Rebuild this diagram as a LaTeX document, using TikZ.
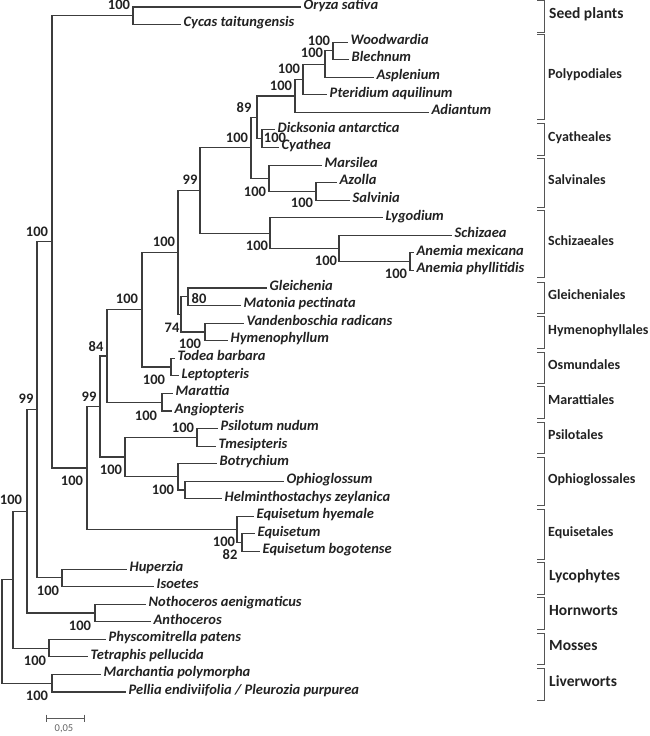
\documentclass[tikz,border=0pt]{standalone}
\usepackage{fontspec}
\setmainfont{Carlito}
\definecolor{linecol}{HTML}{3C3C3C}
\definecolor{txtcol}{HTML}{222222}
\definecolor{brcol}{HTML}{555555}
\begin{document}
\begin{tikzpicture}[x=1pt,y=-1pt,
  br/.style={draw=linecol,line width=1.1pt},
  taxon/.style={anchor=west,font=\fontsize{14.5}{15}\selectfont\bfseries\itshape,text=txtcol,inner xsep=2.5pt,inner ysep=0pt,text height=0.62em,text depth=0.18em},
  bs/.style={font=\fontsize{14.5}{15}\selectfont\bfseries,text=txtcol,inner sep=0pt},
  grp/.style={anchor=west,font=\fontsize{14}{15}\selectfont\bfseries,text=txtcol,inner sep=0pt,text height=0.62em,text depth=0.18em},
  major/.style={anchor=west,font=\fontsize{15.5}{16}\selectfont\bfseries,text=txtcol,inner sep=0pt,text height=0.62em,text depth=0.18em},
  bracket/.style={draw=brcol,line width=1pt},
  scalelab/.style={font=\fontsize{10.5}{11}\selectfont,text=gray!80!black,inner sep=0pt}]
\fill[white] (0,0) rectangle (650,736);
\useasboundingbox (0,0) rectangle (650,736);
% leaves
\node[taxon] (oryza) at (301,7) {Oryza sativa};
\node[taxon] (cycas) at (181,24.6) {Cycas taitungensis};
\node[taxon] (woodw) at (348,42.1) {Woodwardia};
\node[taxon] (blech) at (349,59.7) {Blechnum};
\node[taxon] (asplen) at (374,77.3) {Asplenium};
\node[taxon] (pterid) at (327,94.8) {Pteridium aquilinum};
\node[taxon] (adiant) at (429,112.4) {Adiantum};
\node[taxon] (dicks) at (275,129.9) {Dicksonia antarctica};
\node[taxon] (cyathea) at (279,147.5) {Cyathea};
\node[taxon] (marsil) at (322,165.1) {Marsilea};
\node[taxon] (azolla) at (337,182.6) {Azolla};
\node[taxon] (salvinia) at (350,200.2) {Salvinia};
\node[taxon] (lygod) at (383,217.8) {Lygodium};
\node[taxon] (schizaea) at (452,235.3) {Schizaea};
\node[taxon] (anemx) at (414,252.9) {Anemia mexicana};
\node[taxon] (anemp) at (414,270.5) {Anemia phyllitidis};
\node[taxon] (gleich) at (267,288.0) {Gleichenia};
\node[taxon] (maton) at (241,305.6) {Matonia pectinata};
\node[taxon] (vanden) at (244,323.2) {Vandenboschia radicans};
\node[taxon] (hymeno) at (228,340.7) {Hymenophyllum};
\node[taxon] (todea) at (175,358.3) {Todea barbara};
\node[taxon] (lepto) at (179,375.8) {Leptopteris};
\node[taxon] (maratt) at (173,393.4) {Marattia};
\node[taxon] (angio) at (172,411.0) {Angiopteris};
\node[taxon] (psilotum) at (218,428.5) {Psilotum nudum};
\node[taxon] (tmes) at (216,446.1) {Tmesipteris};
\node[taxon] (botr) at (217,463.7) {Botrychium};
\node[taxon] (ophio) at (284,481.2) {Ophioglossum};
\node[taxon] (helm) at (222,498.8) {Helminthostachys zeylanica};
\node[taxon] (eqhy) at (254,516.4) {Equisetum hyemale};
\node[taxon] (equ) at (255,533.9) {Equisetum};
\node[taxon] (eqbo) at (260,551.5) {Equisetum bogotense};
\node[taxon] (huper) at (127,569.1) {Huperzia};
\node[taxon] (isoet) at (154,586.6) {Isoetes};
\node[taxon] (notho) at (146,604.2) {Nothoceros aenigmaticus};
\node[taxon] (antho) at (151,621.8) {Anthoceros};
\node[taxon] (physco) at (106,639.3) {Physcomitrella patens};
\node[taxon] (tetra) at (88,656.9) {Tetraphis pellucida};
\node[taxon] (march) at (101,674.5) {Marchantia polymorpha};
\node[taxon] (pellia) at (126,692.0) {Pellia endiviifolia / Pleurozia purpurea};
% internal nodes
\coordinate (n333) at (333,50.9);
\coordinate (n325) at (325,64.1);
\coordinate (n303) at (303,79.5);
\coordinate (poly) at (295,96);
\coordinate (cyath) at (262,138.7);
\coordinate (n89) at (257,117.3);
\coordinate (azol) at (316,191.4);
\coordinate (salv) at (269,178.3);
\coordinate (nP) at (251,147.8);
\coordinate (anem) at (410,261.7);
\coordinate (n339) at (339,248.5);
\coordinate (schiz) at (270,233.2);
\coordinate (n200) at (200,190.5);
\coordinate (nC) at (188,296.8);
\coordinate (hymen) at (205,332);
\coordinate (nB) at (181,314.4);
\coordinate (nA) at (178,252.4);
\coordinate (osm) at (171,367);
\coordinate (n142) at (142,309.7);
\coordinate (mar) at (162,402.2);
\coordinate (n107) at (107,356);
\coordinate (psil) at (197,437.3);
\coordinate (ophsub) at (185,490);
\coordinate (oph) at (178,476.8);
\coordinate (n125) at (125,457);
\coordinate (n100) at (100,406.5);
\coordinate (eqsub) at (242,542.7);
\coordinate (equis) at (237,529.5);
\coordinate (n87) at (87,468);
\coordinate (seed) at (133,15.8);
\coordinate (n52) at (52,241.9);
\coordinate (lyco) at (62,577.9);
\coordinate (n37) at (37,409.9);
\coordinate (horn) at (95,613);
\coordinate (n27) at (27,511.4);
\coordinate (moss) at (49,648.1);
\coordinate (n13) at (13,579.8);
\coordinate (liver) at (52,683.2);
\coordinate (root) at (2,631.5);
% edges
\foreach \p/\c in {seed/oryza.west,seed/cycas.west,n52/seed,n52/n87,
  n87/n100,n87/equis,equis/eqhy.west,equis/eqsub,eqsub/equ.west,eqsub/eqbo.west,
  n100/n107,n100/n125,n125/psil,n125/oph,psil/psilotum.west,psil/tmes.west,
  oph/botr.west,oph/ophsub,ophsub/ophio.west,ophsub/helm.west,
  n107/n142,n107/mar,mar/maratt.west,mar/angio.west,
  n142/nA,n142/osm,osm/todea.west,osm/lepto.west,
  nA/n200,nA/nB,nB/nC,nB/hymen,nC/gleich.west,nC/maton.west,hymen/vanden.west,hymen/hymeno.west,
  n200/nP,n200/schiz,schiz/lygod.west,schiz/n339,n339/schizaea.west,n339/anem,anem/anemx.west,anem/anemp.west,
  nP/n89,nP/salv,n89/poly,n89/cyath,cyath/dicks.west,cyath/cyathea.west,
  poly/n303,poly/adiant.west,n303/n325,n303/pterid.west,n325/n333,n325/asplen.west,n333/woodw.west,n333/blech.west,
  salv/marsil.west,salv/azol,azol/azolla.west,azol/salvinia.west,
  n37/n52,n37/lyco,lyco/huper.west,lyco/isoet.west,
  n27/n37,n27/horn,horn/notho.west,horn/antho.west,
  n13/n27,n13/moss,moss/physco.west,moss/tetra.west,
  root/n13,root/liver,liver/march.west,liver/pellia.west}
  \draw[br] (\p) |- (\c);
% bootstrap values
\node[bs] (b1) at (119,5) {100};
\node[bs] (b2) at (319,41) {100};
\node[bs] (b3) at (312,53) {100};
\node[bs] (b4) at (289,69) {100};
\node[bs] (b5) at (281,86) {100};
\node[bs] (b6) at (244,108) {89};
\node[bs] (b7) at (237,138) {100};
\node[bs] (b8) at (275,138) {100};
\node[bs] (b9) at (255,192) {100};
\node[bs] (b10) at (302,203) {100};
\node[bs] (b11) at (190,180) {99};
\node[bs] (b12) at (257,246) {100};
\node[bs] (b13) at (326,261) {100};
\node[bs] (b14) at (396,274) {100};
\node[bs] (b15) at (164,242) {100};
\node[bs] (b16) at (199,299) {80};
\node[bs] (b17) at (172,328) {74};
\node[bs] (b18) at (190,344) {100};
\node[bs] (b19) at (127,299) {100};
\node[bs] (b20) at (154,380) {100};
\node[bs] (b21) at (96,347) {84};
\node[bs] (b22) at (146,416) {100};
\node[bs] (b23) at (89,397) {99};
\node[bs] (b24) at (183,428) {100};
\node[bs] (b25) at (111,470) {100};
\node[bs] (b26) at (163,490) {100};
\node[bs] (b27) at (72,481) {100};
\node[bs] (b28) at (26,399) {99};
\node[bs] (b29) at (37,232) {100};
\node[bs] (b30) at (224,542) {100};
\node[bs] (b31) at (230,555) {82};
\node[bs] (b32) at (11,500) {100};
\node[bs] (b33) at (48,591) {100};
\node[bs] (b34) at (80,626) {100};
\node[bs] (b35) at (35,661) {100};
\node[bs] (b36) at (37,696) {100};
% brackets and group labels
\draw[bracket] (537,0.5) -- (544,0.5) -- (544,32) -- (537,32);
\node[major] (gseed) at (549,16) {Seed plants};
\draw[bracket] (537,34) -- (544,34) -- (544,119) -- (537,119);
\node[grp] (gpoly) at (548,76.5) {Polypodiales};
\draw[bracket] (537,123) -- (544,123) -- (544,155) -- (537,155);
\node[grp] (gcyat) at (548,139) {Cyatheales};
\draw[bracket] (537,158) -- (544,158) -- (544,207) -- (537,207);
\node[grp] (gsalv) at (548,182.5) {Salvinales};
\draw[bracket] (537,210) -- (544,210) -- (544,277) -- (537,277);
\node[grp] (gschi) at (548,243.5) {Schizaeales};
\draw[bracket] (537,282) -- (544,282) -- (544,313) -- (537,313);
\node[grp] (ggle) at (548,297.5) {Gleicheniales};
\draw[bracket] (537,316) -- (544,316) -- (544,348) -- (537,348);
\node[grp] (ghym) at (548,332) {Hymenophyllales};
\draw[bracket] (537,352) -- (544,352) -- (544,383) -- (537,383);
\node[grp] (gosm) at (548,367.5) {Osmundales};
\draw[bracket] (537,386) -- (544,386) -- (544,418) -- (537,418);
\node[grp] (gmar) at (548,402) {Marattiales};
\draw[bracket] (537,422) -- (544,422) -- (544,453) -- (537,453);
\node[grp] (gpsi) at (548,437.5) {Psilotales};
\draw[bracket] (537,457) -- (544,457) -- (544,505) -- (537,505);
\node[grp] (goph) at (548,481) {Ophioglossales};
\draw[bracket] (537,509) -- (544,509) -- (544,559) -- (537,559);
\node[grp] (gequ) at (548,534) {Equisetales};
\draw[bracket] (537,562) -- (544,562) -- (544,594) -- (537,594);
\node[major] (glyc) at (549,578) {Lycophytes};
\draw[bracket] (537,597) -- (544,597) -- (544,629) -- (537,629);
\node[major] (ghor) at (549,613) {Hornworts};
\draw[bracket] (537,633) -- (544,633) -- (544,664) -- (537,664);
\node[major] (gmos) at (549,648.5) {Mosses};
\draw[bracket] (537,668) -- (544,668) -- (544,700) -- (537,700);
\node[major] (gliv) at (549,684) {Liverworts};
% scale bar
\coordinate (sbL) at (46,718);
\coordinate (sbR) at (84,718);
\draw[draw=gray!70!black,line width=1pt] (sbL) -- (sbR);
\draw[draw=gray!70!black,line width=1pt] ([yshift=3.5pt]sbL) -- ([yshift=-3.5pt]sbL);
\draw[draw=gray!70!black,line width=1pt] ([yshift=3.5pt]sbR) -- ([yshift=-3.5pt]sbR);
\node[scalelab] (sblab) at (64,729) {0,05};
\end{tikzpicture}
\end{document}
